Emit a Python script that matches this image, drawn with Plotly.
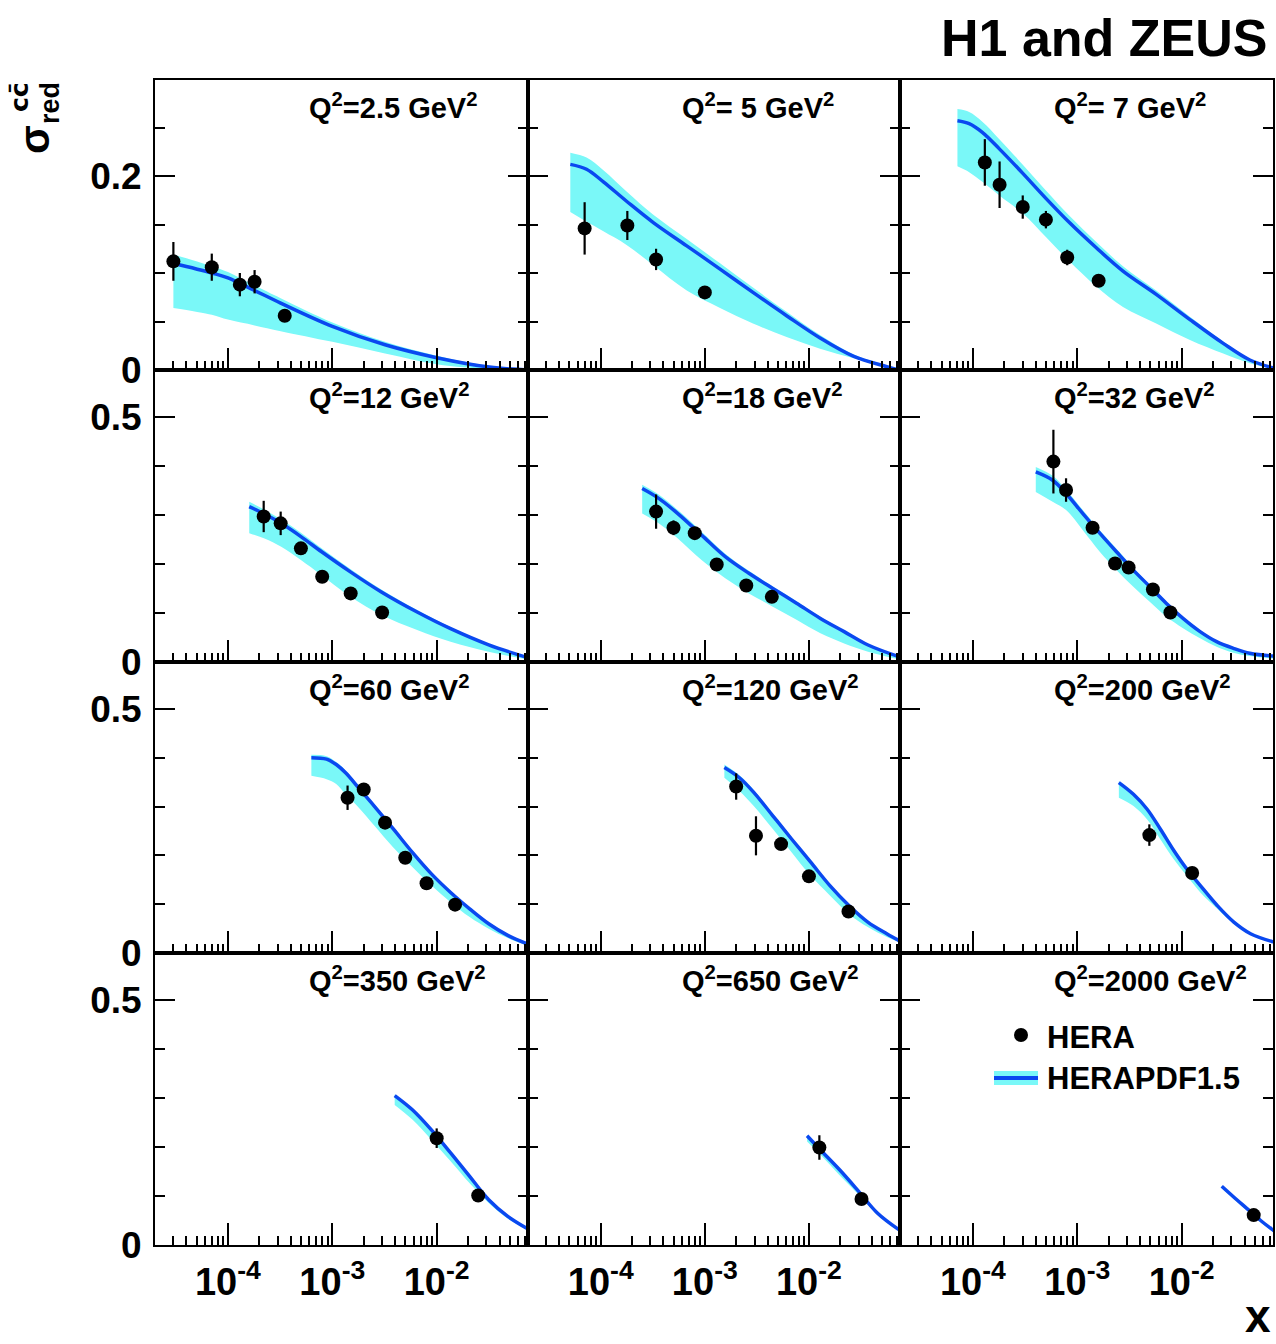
import plotly.graph_objects as go

W, H = 1276, 1344          # reference picture size
FIG_H = 1365               # rendered page height (compensates the viewport/photo scaling)

# ---------------- data ----------------
q2_labels = ["Q<sup>2</sup>=2.5 GeV<sup>2</sup>", "Q<sup>2</sup>= 5 GeV<sup>2</sup>", "Q<sup>2</sup>= 7 GeV<sup>2</sup>",
             "Q<sup>2</sup>=12 GeV<sup>2</sup>", "Q<sup>2</sup>=18 GeV<sup>2</sup>", "Q<sup>2</sup>=32 GeV<sup>2</sup>",
             "Q<sup>2</sup>=60 GeV<sup>2</sup>", "Q<sup>2</sup>=120 GeV<sup>2</sup>", "Q<sup>2</sup>=200 GeV<sup>2</sup>",
             "Q<sup>2</sup>=350 GeV<sup>2</sup>", "Q<sup>2</sup>=650 GeV<sup>2</sup>", "Q<sup>2</sup>=2000 GeV<sup>2</sup>"]

hera_x = [
    [3.0e-5, 7.0e-5, 1.3e-4, 1.8e-4, 3.5e-4],
    [7.0e-5, 1.8e-4, 3.4e-4, 1.0e-3],
    [1.3e-4, 1.8e-4, 3.0e-4, 5.0e-4, 8.0e-4, 1.6e-3],
    [2.2e-4, 3.2e-4, 5.0e-4, 8.0e-4, 1.5e-3, 3.0e-3],
    [3.4e-4, 5.0e-4, 8.0e-4, 1.3e-3, 2.5e-3, 4.4e-3],
    [5.9e-4, 7.8e-4, 1.4e-3, 2.3e-3, 3.1e-3, 5.3e-3, 7.8e-3],
    [1.4e-3, 2.0e-3, 3.2e-3, 5.0e-3, 8.0e-3, 1.5e-2],
    [2.0e-3, 3.1e-3, 5.4e-3, 1.0e-2, 2.4e-2],
    [4.9e-3, 1.26e-2],
    [1.0e-2, 2.5e-2],
    [1.26e-2, 3.2e-2],
    [4.9e-2],
]
hera_y = [
    [0.112, 0.106, 0.088, 0.091, 0.056],
    [0.146, 0.149, 0.114, 0.080],
    [0.214, 0.191, 0.168, 0.155, 0.116, 0.092],
    [0.297, 0.283, 0.232, 0.174, 0.140, 0.101],
    [0.307, 0.274, 0.263, 0.199, 0.156, 0.133],
    [0.409, 0.351, 0.274, 0.201, 0.193, 0.148, 0.101],
    [0.318, 0.335, 0.267, 0.195, 0.143, 0.099],
    [0.341, 0.240, 0.223, 0.157, 0.085],
    [0.2415, 0.164],
    [0.218, 0.101],
    [0.199, 0.094],
    [0.061],
]
hera_err = [
    [0.020, 0.014, 0.012, 0.012, 0.005],
    [0.027, 0.015, 0.011, 0.005],
    [0.024, 0.024, 0.012, 0.009, 0.008, 0.005],
    [0.032, 0.024, 0.010, 0.008, 0.008, 0.006],
    [0.035, 0.015, 0.010, 0.008, 0.008, 0.008],
    [0.065, 0.024, 0.010, 0.008, 0.008, 0.008, 0.006],
    [0.025, 0.012, 0.010, 0.008, 0.010, 0.006],
    [0.027, 0.040, 0.010, 0.008, 0.006],
    [0.022, 0.008],
    [0.020, 0.006],
    [0.025, 0.006],
    [0.006],
]

pdf_x = [
    [3.0e-5, 7.0e-5, 1.0e-4, 1.8e-4, 3.2e-4, 1.0e-3, 3.2e-3, 1.0e-2, 3.2e-2, 7.5e-2],
    [5.1e-5, 7.3e-5, 1.06e-4, 1.77e-4, 3.2e-4, 6.7e-4, 1.4e-3, 2.9e-3, 6.1e-3, 1.28e-2, 2.7e-2, 5.6e-2, 7.2e-2],
    [7.1e-5, 9.2e-5, 1.23e-4, 1.79e-4, 2.99e-4, 5.0e-4, 8.4e-4, 1.52e-3, 2.74e-3, 5.7e-3, 1.2e-2, 2.5e-2, 4.5e-2, 7.6e-2],
    [1.6e-4, 2.24e-4, 3.24e-4, 5.0e-4, 7.9e-4, 1.49e-3, 2.95e-3, 6.5e-3, 1.36e-2, 3.15e-2, 7.3e-2],
    [2.5e-4, 3.6e-4, 5.5e-4, 9.3e-4, 1.57e-3, 2.65e-3, 4.5e-3, 7.6e-3, 1.29e-2, 2.18e-2, 3.7e-2, 7.3e-2],
    [4.0e-4, 5.8e-4, 7.8e-4, 1.13e-3, 1.64e-3, 2.37e-3, 3.42e-3, 4.94e-3, 7.1e-3, 1.03e-2, 1.5e-2, 2.16e-2, 3.13e-2, 4.5e-2, 7.6e-2],
    [6.3e-4, 8.8e-4, 1.09e-3, 1.34e-3, 1.84e-3, 2.52e-3, 3.84e-3, 5.85e-3, 8.9e-3, 1.36e-2, 2.07e-2, 3.15e-2, 4.8e-2, 7.3e-2],
    [1.54e-3, 2.15e-3, 2.95e-3, 4.5e-3, 6.84e-3, 1.04e-2, 1.59e-2, 2.42e-2, 3.68e-2, 5.6e-2, 7.3e-2],
    [2.5e-3, 3.45e-3, 4.65e-3, 6.24e-3, 8.4e-3, 1.12e-2, 1.51e-2, 2.19e-2, 3.16e-2, 4.57e-2, 7.66e-2],
    [3.96e-3, 5.85e-3, 8.9e-3, 1.36e-2, 2.07e-2, 3.15e-2, 4.8e-2, 7.7e-2],
    [9.6e-3, 1.29e-2, 1.96e-2, 2.99e-2, 4.54e-2, 7.3e-2],
    [2.42e-2, 3.13e-2, 4.2e-2, 5.64e-2, 7.85e-2],
]
pdf_central = [
    [0.110, 0.100, 0.095, 0.082, 0.069, 0.045, 0.026, 0.0127, 0.003, 0.0],
    [0.212, 0.207, 0.194, 0.174, 0.152, 0.128, 0.104, 0.080, 0.056, 0.033, 0.014, 0.0034, 0.0],
    [0.257, 0.254, 0.245, 0.228, 0.203, 0.177, 0.152, 0.126, 0.102, 0.078, 0.052, 0.0275, 0.0103, 0.002],
    [0.317, 0.302, 0.283, 0.256, 0.225, 0.184, 0.143, 0.102, 0.068, 0.035, 0.0095],
    [0.354, 0.334, 0.303, 0.259, 0.215, 0.181, 0.150, 0.120, 0.089, 0.062, 0.0347, 0.0109],
    [0.388, 0.371, 0.344, 0.303, 0.263, 0.225, 0.188, 0.154, 0.120, 0.089, 0.062, 0.0415, 0.0279, 0.0177, 0.012],
    [0.400, 0.397, 0.386, 0.369, 0.335, 0.301, 0.254, 0.206, 0.162, 0.124, 0.0905, 0.0599, 0.0361, 0.019],
    [0.380, 0.359, 0.329, 0.281, 0.233, 0.186, 0.138, 0.0973, 0.0633, 0.0395, 0.0259],
    [0.349, 0.325, 0.295, 0.254, 0.210, 0.172, 0.138, 0.0973, 0.0633, 0.0395, 0.0224],
    [0.305, 0.276, 0.235, 0.188, 0.140, 0.0925, 0.0585, 0.0313],
    [0.223, 0.194, 0.154, 0.110, 0.0653, 0.0313],
    [0.120, 0.0986, 0.0748, 0.051, 0.0272],
]
pdf_lower = [
    [0.064, 0.057, 0.052, 0.046, 0.040, 0.029, 0.017, 0.006, 0.001, 0.0],
    [0.163, 0.153, 0.143, 0.129, 0.108, 0.082, 0.064, 0.048, 0.034, 0.022, 0.012, 0.004, 0.002],
    [0.210, 0.204, 0.194, 0.180, 0.1615, 0.137, 0.112, 0.086, 0.065, 0.048, 0.031, 0.017, 0.007, 0.001],
    [0.263, 0.252, 0.235, 0.208, 0.177, 0.133, 0.0959, 0.0653, 0.0415, 0.0211, 0.0054],
    [0.303, 0.283, 0.252, 0.208, 0.171, 0.140, 0.113, 0.086, 0.0585, 0.038, 0.0211, 0.0054],
    [0.347, 0.327, 0.310, 0.269, 0.225, 0.188, 0.154, 0.123, 0.093, 0.069, 0.0483, 0.0313, 0.019, 0.0122, 0.0068],
    [0.363, 0.356, 0.346, 0.325, 0.295, 0.261, 0.216, 0.176, 0.138, 0.104, 0.0735, 0.0497, 0.0306, 0.0156],
    [0.359, 0.332, 0.301, 0.254, 0.206, 0.158, 0.118, 0.080, 0.0531, 0.0327, 0.0224],
    [0.318, 0.301, 0.274, 0.233, 0.192, 0.158, 0.124, 0.0905, 0.0599, 0.0374, 0.0211],
    [0.286, 0.256, 0.215, 0.171, 0.126, 0.0857, 0.0537, 0.0286],
    [0.211, 0.184, 0.143, 0.103, 0.0619, 0.0279],
    [0.116, 0.0946, 0.0708, 0.047, 0.0232],
]
pdf_upper = [
    [0.119, 0.107, 0.101, 0.087, 0.074, 0.049, 0.029, 0.0147, 0.004, 0.0],
    [0.224, 0.219, 0.206, 0.184, 0.160, 0.135, 0.110, 0.085, 0.060, 0.036, 0.016, 0.0044, 0.0],
    [0.269, 0.266, 0.256, 0.238, 0.212, 0.185, 0.159, 0.132, 0.107, 0.082, 0.055, 0.0295, 0.0113, 0.002],
    [0.327, 0.311, 0.291, 0.264, 0.232, 0.190, 0.148, 0.106, 0.071, 0.037, 0.0105],
    [0.362, 0.342, 0.310, 0.266, 0.221, 0.186, 0.154, 0.124, 0.092, 0.064, 0.0357, 0.0119],
    [0.398, 0.380, 0.352, 0.310, 0.269, 0.231, 0.193, 0.158, 0.124, 0.092, 0.065, 0.0435, 0.0299, 0.0187, 0.013],
    [0.406, 0.403, 0.391, 0.374, 0.340, 0.305, 0.258, 0.210, 0.165, 0.127, 0.0925, 0.0619, 0.0371, 0.020],
    [0.386, 0.364, 0.334, 0.285, 0.237, 0.189, 0.141, 0.0993, 0.0653, 0.0405, 0.0269],
    [0.352, 0.328, 0.298, 0.257, 0.213, 0.175, 0.140, 0.0993, 0.0653, 0.0405, 0.0234],
    [0.307, 0.278, 0.237, 0.190, 0.142, 0.0945, 0.0600, 0.0323],
    [0.225, 0.196, 0.156, 0.112, 0.0670, 0.0323],
    [0.121, 0.0996, 0.0758, 0.052, 0.0282],
]

x_tick_vals = [1e-4, 1e-3, 1e-2]
x_tick_text = ["10<sup>-4</sup>", "10<sup>-3</sup>", "10<sup>-2</sup>"]
y_ticks_row1 = [0, 0.2]
y_ticks_other = [0, 0.5]

# ---------------- layout geometry (reference pixels) ----------------
col_px = [(155, 528), (528, 900), (900, 1273)]
row_px = [(80, 370), (370, 662), (662, 953), (953, 1245)]


def px2x(p):
    return p / W


def px2y(p):
    return 1 - p / H


BAND = "#7af8f8"
LINE = "#0a48f0"
FONT = "Liberation Sans"
SMOOTH = 1.0

fig = go.Figure()
xminor = [k * 10.0 ** e for e in range(-5, -1) for k in range(2, 10)]
xminor = [v for v in xminor if 2e-5 <= v <= 0.075]

for i in range(12):
    r, c = divmod(i, 3)
    sfx = "" if i == 0 else str(i + 1)
    xa, ya = "x" + sfx, "y" + sfx
    # uncertainty band
    fig.add_trace(go.Scatter(x=pdf_x[i], y=pdf_lower[i], mode="lines",
                             line=dict(width=0, shape="spline", smoothing=SMOOTH),
                             xaxis=xa, yaxis=ya, showlegend=False, hoverinfo="skip"))
    fig.add_trace(go.Scatter(x=pdf_x[i], y=pdf_upper[i], mode="lines",
                             line=dict(width=0, shape="spline", smoothing=SMOOTH),
                             fill="tonexty", fillcolor=BAND, xaxis=xa, yaxis=ya, showlegend=False, hoverinfo="skip"))
    fig.add_trace(go.Scatter(x=pdf_x[i], y=pdf_central[i], mode="lines",
                             line=dict(width=3.5, color=LINE, shape="spline", smoothing=SMOOTH),
                             xaxis=xa, yaxis=ya, showlegend=False))
    fig.add_trace(go.Scatter(x=hera_x[i], y=hera_y[i], mode="markers",
                             marker=dict(size=14, color="black"),
                             error_y=dict(type="data", array=hera_err[i], color="black", thickness=2.2, width=0),
                             xaxis=xa, yaxis=ya, showlegend=False))

    x0, x1 = col_px[c]
    y0, y1 = row_px[r]
    xkey = "xaxis" + sfx
    ykey = "yaxis" + sfx
    ymax = 0.299 if r == 0 else 0.596
    yt = y_ticks_row1 if r == 0 else y_ticks_other
    yminor = [0.05, 0.1, 0.15, 0.25] if r == 0 else [0.1, 0.2, 0.3, 0.4]
    fig.layout[xkey] = dict(
        type="log", range=[-4.699, -1.125], domain=[px2x(x0), px2x(x1)], anchor=ya,
        showline=True, linecolor="black", linewidth=2, mirror=True, showgrid=False, zeroline=False,
        ticks="inside", ticklen=22, tickwidth=1.5, tickcolor="black",
        tickmode="array", tickvals=x_tick_vals, ticktext=x_tick_text,
        showticklabels=(r == 3), ticklabelstandoff=2,
        tickfont=dict(family=FONT, size=38, color="black", weight="bold"),
        minor=dict(ticks="inside", ticklen=9, tickwidth=1.5, tickcolor="black", tickmode="array", tickvals=xminor,
                   showgrid=False),
    )
    fig.layout[ykey] = dict(
        range=[0, ymax], domain=[px2y(y1), px2y(y0)], anchor=xa,
        showline=True, linecolor="black", linewidth=2, mirror="ticks", showgrid=False, zeroline=False,
        ticks="inside", ticklen=20, tickwidth=1.5, tickcolor="black",
        tickmode="array", tickvals=yt, ticktext=[("0" if v == 0 else str(v)) for v in yt],
        showticklabels=(c == 0), ticklabelstandoff=4,
        tickfont=dict(family=FONT, size=37, color="black", weight="bold"),
        minor=dict(ticks="inside", ticklen=10, tickwidth=1.5, tickcolor="black", tickmode="array", tickvals=yminor,
                   showgrid=False),
    )
    fig.add_annotation(text=q2_labels[i], xref="paper", yref="paper", x=px2x(x0 + 152), y=px2y(y0 + 26),
                       xanchor="left", yanchor="middle", showarrow=False,
                       font=dict(family=FONT, size=29, color="black", weight="bold"))

# title, axis labels
fig.add_annotation(text="H1 and ZEUS", xref="paper", yref="paper", x=px2x(1270), y=px2y(38),
                   xanchor="right", yanchor="middle", showarrow=False,
                   font=dict(family=FONT, size=52, color="black", weight="bold"))
fig.add_annotation(text="x", xref="paper", yref="paper", x=px2x(1258), y=px2y(1343),
                   xanchor="center", yanchor="bottom", showarrow=False, borderpad=0,
                   font=dict(family=FONT, size=46, color="black", weight="bold"))
fig.add_annotation(text="σ", xref="paper", yref="paper", x=px2x(35), y=px2y(140), textangle=-90,
                   xanchor="center", yanchor="middle", showarrow=False,
                   font=dict(family=FONT, size=42, color="black", weight="bold"))
fig.add_annotation(text="cc\u0304", xref="paper", yref="paper", x=px2x(19), y=px2y(97), textangle=-90,
                   xanchor="center", yanchor="middle", showarrow=False,
                   font=dict(family="DejaVu Sans", size=25, color="black", weight="bold"))
fig.add_annotation(text="red", xref="paper", yref="paper", x=px2x(50), y=px2y(103), textangle=-90,
                   xanchor="center", yanchor="middle", showarrow=False,
                   font=dict(family=FONT, size=27, color="black", weight="bold"))

# legend (drawn in the last panel)
fig.add_shape(type="circle", xref="paper", yref="paper", x0=px2x(1014), x1=px2x(1028), y0=px2y(1042), y1=px2y(1028),
              fillcolor="black", line=dict(width=0))
fig.add_shape(type="rect", xref="paper", yref="paper", x0=px2x(994), x1=px2x(1038), y0=px2y(1085), y1=px2y(1071),
              fillcolor=BAND, line=dict(width=0))
fig.add_shape(type="line", xref="paper", yref="paper", x0=px2x(994), x1=px2x(1038), y0=px2y(1078), y1=px2y(1078),
              line=dict(color=LINE, width=4))
fig.add_annotation(text="HERA", xref="paper", yref="paper", x=px2x(1045), y=px2y(1037),
                   xanchor="left", yanchor="middle", showarrow=False,
                   font=dict(family=FONT, size=31, color="black", weight="bold"))
fig.add_annotation(text="HERAPDF1.5", xref="paper", yref="paper", x=px2x(1045), y=px2y(1078),
                   xanchor="left", yanchor="middle", showarrow=False,
                   font=dict(family=FONT, size=31, color="black", weight="bold"))

fig.update_layout(width=W, height=FIG_H, margin=dict(l=0, r=0, t=0, b=0),
                  paper_bgcolor="white", plot_bgcolor="white", showlegend=False)

POST = (
    "var d=document.documentElement,b=document.body;"
    "d.style.margin='0';d.style.padding='0';"
    "b.style.margin='0';b.style.padding='0';"
)
fig.write_html("out.html", config={"displayModeBar": False}, post_script=POST)
